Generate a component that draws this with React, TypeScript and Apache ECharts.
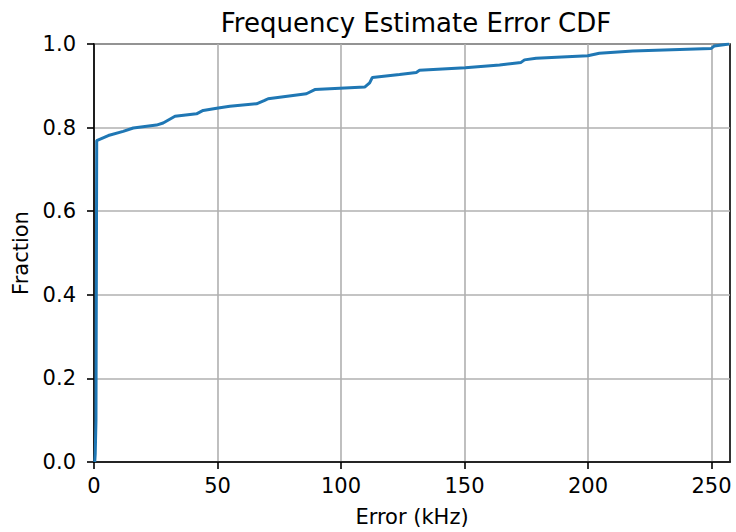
import React, { useEffect, useRef } from "react";
import * as echarts from "echarts";

const errorKHz = [0.3, 0.5, 0.8, 1.1, 5.8, 11.8, 15.9, 25.3, 28, 32.8, 41.5, 44.2, 50.3, 55, 65.8, 69.1, 70.5, 86, 89.4, 109.6, 111.6, 112.7, 123.7, 130.5, 131.8, 150.3, 164.2, 172.9, 174.3, 179, 199.9, 204.6, 218.1, 249.8, 251.1, 257.2];
const fraction = [0.0, 0.02, 0.1, 0.769, 0.781, 0.791, 0.799, 0.806, 0.811, 0.827, 0.833, 0.841, 0.847, 0.851, 0.857, 0.865, 0.869, 0.881, 0.891, 0.897, 0.907, 0.92, 0.927, 0.932, 0.937, 0.943, 0.95, 0.956, 0.962, 0.966, 0.972, 0.978, 0.983, 0.989, 0.995, 1.0];
const xTicks = [0, 50, 100, 150, 200, 250];

const FONT = "DejaVu Sans";

export default function App() {
  const ref = useRef<HTMLDivElement>(null);
  useEffect(() => {
    const chart = echarts.init(ref.current!, null, { renderer: "svg" });
    chart.setOption({
      animation: false,
      backgroundColor: "#fff",
      title: {
        text: "Frequency Estimate Error CDF",
        left: 411,
        top: 5,
        textAlign: "center",
        textStyle: { fontFamily: FONT, fontSize: 26, fontWeight: "normal", color: "#000" },
      },
      grid: {
        left: 94,
        right: 6,
        top: 44,
        bottom: 69,
        show: true,
        borderColor: "#000",
        borderWidth: 1.6,
        backgroundColor: "#fff",
      },
      xAxis: {
        type: "value",
        min: 0,
        max: 257.5,
        interval: 50,
        name: "Error (kHz)",
        nameLocation: "middle",
        nameGap: 44,
        nameTextStyle: { fontFamily: FONT, fontSize: 21, color: "#000" },
        axisLine: { show: true, lineStyle: { color: "#000", width: 1.6 } },
        axisTick: { show: true, length: 7, lineStyle: { color: "#000", width: 1.6 }, customValues: xTicks },
        axisLabel: { fontFamily: FONT, fontSize: 21, color: "#000", margin: 13, customValues: xTicks },
        splitLine: { show: true, lineStyle: { color: "#b0b0b0", width: 1.6 } },
      },
      yAxis: {
        type: "value",
        min: 0,
        max: 1,
        interval: 0.2,
        name: "Fraction",
        nameLocation: "middle",
        nameGap: 60,
        nameRotate: 90,
        nameTextStyle: { fontFamily: FONT, fontSize: 21, color: "#000" },
        axisLine: { show: true, lineStyle: { color: "#000", width: 1.6 } },
        axisTick: { show: true, length: 7, lineStyle: { color: "#000", width: 1.6 } },
        axisLabel: {
          fontFamily: FONT,
          fontSize: 21,
          color: "#000",
          margin: 18,
          formatter: (v: number) => v.toFixed(1),
        },
        splitLine: { show: true, lineStyle: { color: "#b0b0b0", width: 1.6 } },
      },
      series: [
        {
          type: "line",
          data: errorKHz.map((x, i) => [x, fraction[i]]),
          showSymbol: false,
          lineStyle: { color: "#1f77b4", width: 3 },
          itemStyle: { color: "#1f77b4" },
        },
      ],
    });
    return () => chart.dispose();
  }, []);
  return <div ref={ref} style={{ width: 736, height: 532, position: "absolute", left: 0, top: 0 }} />;
}
